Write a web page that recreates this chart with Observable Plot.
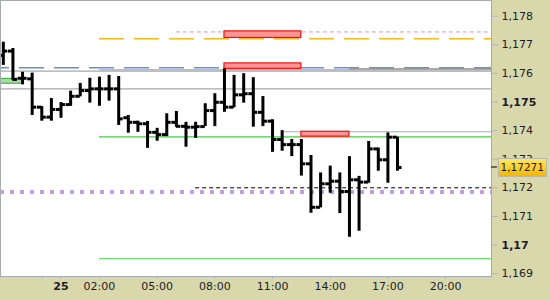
<!DOCTYPE html>
<html><head><meta charset="utf-8">
<script src="https://cdn.jsdelivr.net/npm/d3@7"></script>
<script src="https://cdn.jsdelivr.net/npm/@observablehq/plot@0.6"></script>
<style>html,body{margin:0;padding:0;background:#d9d8ac;} #chart svg{display:block}</style>
</head><body><div id="chart"></div>
<script>
// 30-minute OHLC bars, starting 24th 21:00 (UTC)
const openP  = [1.17663,1.17678,1.17583,1.17581,1.17482,1.17447,1.17474,1.17491,1.17520,1.17540,1.17546,1.17546,1.17546,1.17445,1.17429,1.17424,1.17394,1.17386,1.17429,1.17415,1.17412,1.17414,1.17470,1.17499,1.17482,1.17525,1.17529,1.17464,1.17433,1.17369,1.17351,1.17351,1.17284,1.17132,1.17214,1.17223,1.17187,1.17228,1.17220,1.17336,1.17298,1.17377];
const highP  = [1.17709,1.17687,1.17604,1.17601,1.17484,1.17512,1.17498,1.17538,1.17565,1.17583,1.17587,1.17593,1.17589,1.17453,1.17433,1.17432,1.17408,1.17459,1.17467,1.17429,1.17429,1.17494,1.17529,1.17616,1.17593,1.17599,1.17585,1.17519,1.17438,1.17400,1.17369,1.17369,1.17313,1.17252,1.17276,1.17252,1.17309,1.17240,1.17362,1.17339,1.17392,1.17377];
const lowP   = [1.17628,1.17575,1.17560,1.17453,1.17433,1.17433,1.17443,1.17485,1.17518,1.17496,1.17485,1.17503,1.17418,1.17391,1.17394,1.17338,1.17363,1.17379,1.17412,1.17342,1.17373,1.17414,1.17414,1.17464,1.17480,1.17496,1.17412,1.17414,1.17324,1.17328,1.17309,1.17241,1.17111,1.17130,1.17181,1.17110,1.17027,1.17048,1.17216,1.17258,1.17216,1.17258];
const closeP = [1.17678,1.17579,1.17583,1.17482,1.17447,1.17474,1.17491,1.17520,1.17540,1.17546,1.17546,1.17546,1.17441,1.17429,1.17424,1.17394,1.17386,1.17429,1.17415,1.17412,1.17414,1.17470,1.17499,1.17482,1.17525,1.17529,1.17464,1.17433,1.17369,1.17351,1.17351,1.17284,1.17132,1.17214,1.17223,1.17187,1.17228,1.17220,1.17336,1.17298,1.17377,1.17271];
const firstBarHour = -3;          // 21:00 on the 24th, hours relative to midnight of the 25th
const barMinutes = 30;
const lastPriceLabel = "1,17271";

// axis ticks
const yTicks = [1.169, 1.171, 1.172, 1.173, 1.174, 1.176, 1.177, 1.178];
const yTicksBold = [1.17, 1.175];
const xTickHours = [2, 5, 8, 11, 14, 17, 20];
const xTickDayHours = [0];
const xTickMinorHours = [-1];
const xDomainHours = [-3.1467, 22.387];
const yDomain = [1.168899, 1.178549];

// horizontal levels (price, start hour)
const pinkLevel = [1.17745], pinkFrom = [6];
const orangeLevel = [1.17721], orangeFrom = [2];
const blueLevel = [1.17620];
const grayLevelsFull = [1.17608, 1.17546];
const grayLevelsFrom = [1.17612, 1.17396], grayFrom = [2, 11.5];
const darkGrayLevel = [1.17616], darkGrayFrom = [15];
const greenLevels = [1.17378, 1.16952], greenFrom = [2, 2];
const blackDashLevel = [1.17200], blackDashFrom = [7];
const purpleLevel = [1.17185];
// zones
const redX1 = [8.5, 8.5, 12.5], redX2 = [12.5, 12.5, 15];
const redY1 = [1.17724, 1.17616, 1.17379], redY2 = [1.17747, 1.17635, 1.17396];
const greenZoneX = [-3.5, -2], greenZoneY = [1.17564, 1.17581];

const base = Date.UTC(2021, 5, 25, 0, 0);
const at = h => new Date(base + h * 3600000);
const xEnd = at(xDomainHours[1] + 1);
const bars = openP.map((o, i) => {
  const t = at(firstBarHour + i * barMinutes / 60);
  return {t, o, h: highP[i], l: lowP[i], c: closeP[i],
    tl: new Date(+t - 14 * 60000), tr: new Date(+t + 14 * 60000)};
});
const fmtY = d => String(d).replace(".", ",");
const hl = (levels, from) => levels.map((y, i) => ({y, x1: at(from[i]), x2: xEnd}));
const axisCommon = {stroke: "#b4b4c4", fill: "#1c1c28", fontSize: 11, label: null};

const chart = Plot.plot({
  width: 550, height: 300,
  marginTop: 0, marginLeft: 0, marginRight: 59, marginBottom: 24,
  style: {background: "#d9d8ac", fontFamily: "DejaVu Sans, sans-serif", fontSize: "11px"},
  x: {type: "utc", domain: xDomainHours.map(at), axis: null},
  y: {domain: yDomain, axis: null},
  marks: [
    Plot.frame({fill: "white", stroke: "none"}),
    Plot.rect([0], {x1: () => at(greenZoneX[0]), x2: () => at(greenZoneX[1]), y1: () => greenZoneY[0], y2: () => greenZoneY[1], fill: "#a9dca9", stroke: "#2ea82e", clip: true}),
    Plot.ruleY(hl(pinkLevel, pinkFrom), {y: "y", x1: "x1", x2: "x2", stroke: "#ee8cc0", strokeDasharray: "4,3", clip: true}),
    Plot.ruleY(hl(orangeLevel, orangeFrom), {y: "y", x1: "x1", x2: "x2", stroke: "#f8b820", strokeWidth: 1.4, strokeDasharray: "25,10", clip: true}),
    Plot.ruleY(blueLevel, {stroke: "#5f8fe8", strokeWidth: 1.4, strokeDasharray: "25,10", strokeDashoffset: 16}),
    Plot.ruleY(grayLevelsFull, {stroke: "#a8a8a8", strokeWidth: 1.2}),
    Plot.ruleY(hl(grayLevelsFrom, grayFrom), {y: "y", x1: "x1", x2: "x2", stroke: "#a8a8a8", strokeWidth: 1.2, clip: true}),
    Plot.ruleY(hl(darkGrayLevel, darkGrayFrom), {y: "y", x1: "x1", x2: "x2", stroke: "#808080", clip: true}),
    Plot.ruleY(hl(greenLevels, greenFrom), {y: "y", x1: "x1", x2: "x2", stroke: "#44cc44", strokeWidth: 1.2, clip: true}),
    Plot.ruleY(hl(blackDashLevel, blackDashFrom), {y: "y", x1: "x1", x2: "x2", stroke: "black", strokeDasharray: "4,3", clip: true}),
    Plot.ruleY(purpleLevel, {stroke: "#c49be6", strokeWidth: 4, strokeDasharray: "4,6"}),
    Plot.rect(redX1.map((x, i) => ({x1: at(x), x2: at(redX2[i]), y1: redY1[i], y2: redY2[i]})), {x1: "x1", x2: "x2", y1: "y1", y2: "y2", fill: "#ff9494", stroke: "#ee1111", strokeWidth: 1.2}),
    Plot.ruleX(bars, {x: "t", y1: "l", y2: "h", stroke: "black", strokeWidth: 3, clip: true}),
    Plot.ruleY(bars, {y: "o", x1: "tl", x2: "t", stroke: "black", strokeWidth: 3, clip: true}),
    Plot.ruleY(bars, {y: "c", x1: "t", x2: "tr", stroke: "black", strokeWidth: 3, clip: true}),
    Plot.axisY(yTicks, {...axisCommon, anchor: "right", tickSize: 6, tickPadding: 4, tickFormat: fmtY}),
    Plot.axisY(yTicksBold, {...axisCommon, anchor: "right", tickSize: 6, tickPadding: 4, tickFormat: fmtY, fontWeight: "bold"}),
    Plot.axisX(xTickHours.map(at), {...axisCommon, anchor: "bottom", tickSize: 3, tickPadding: 3, tickFormat: d3.utcFormat("%H:%M")}),
    Plot.axisX(xTickDayHours.map(at), {...axisCommon, anchor: "bottom", tickSize: 3, tickPadding: 3, tickFormat: d3.utcFormat("%-d"), fontWeight: "bold"}),
    Plot.axisX(xTickMinorHours.map(at), {...axisCommon, anchor: "bottom", tickSize: 3, tickPadding: 3, tickFormat: () => ""}),
    Plot.frame({stroke: "#a8a8b0", fill: "none"})
  ]
});
document.getElementById("chart").appendChild(chart);

// last-price marker on the right axis
const svg = d3.select(chart);
const yLast = chart.scale("y").apply(closeP[closeP.length - 1]);
const defs = svg.append("defs");
const g = defs.append("linearGradient").attr("id", "gold").attr("x1", 0).attr("y1", 0).attr("x2", 0).attr("y2", 1);
g.append("stop").attr("offset", "0%").attr("stop-color", "#ffe866");
g.append("stop").attr("offset", "100%").attr("stop-color", "#f4b400");
const plotRight = 550 - 59;
svg.append("line").attr("x1", plotRight).attr("x2", plotRight + 6).attr("y1", yLast).attr("y2", yLast).attr("stroke", "black");
svg.append("rect").attr("x", plotRight + 7.5).attr("y", yLast - 8.5).attr("width", 48).attr("height", 18)
  .attr("fill", "url(#gold)").attr("stroke", "#b8b8a8");
svg.append("text").attr("x", plotRight + 9.5).attr("y", yLast + 0.5).attr("dy", "0.35em")
  .attr("text-anchor", "start")
  .attr("font-family", "DejaVu Sans, sans-serif").attr("font-size", 10.5).attr("fill", "#1c1c28").text(lastPriceLabel);
</script></body></html>
